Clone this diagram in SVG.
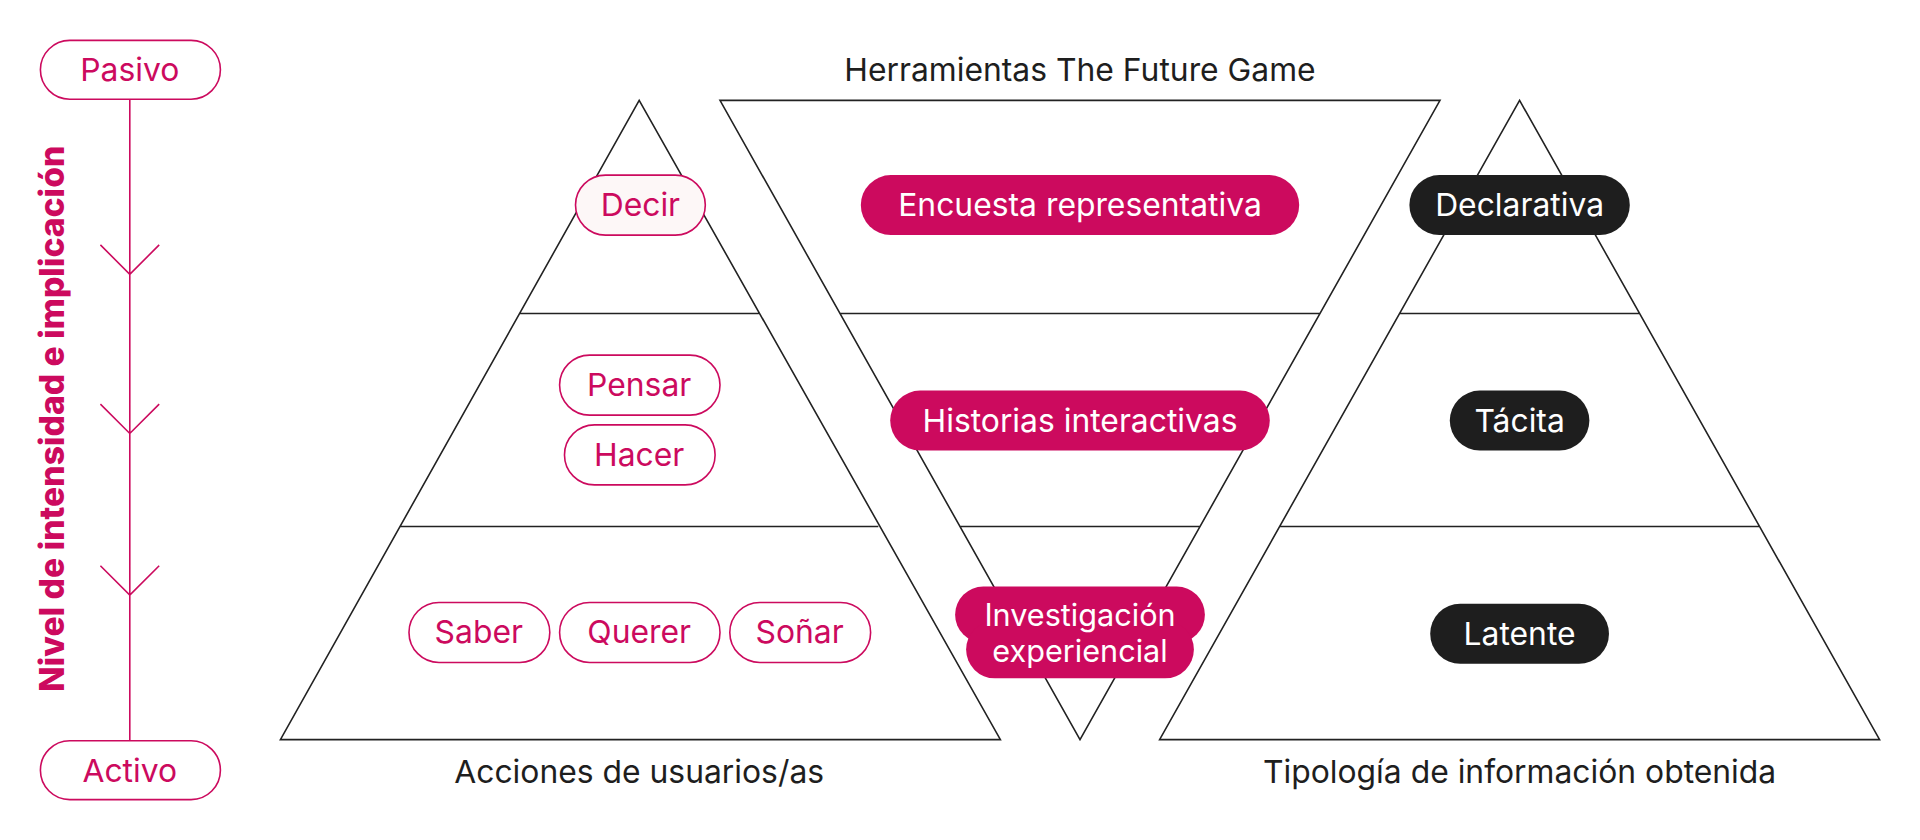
<svg xmlns="http://www.w3.org/2000/svg" width="1920" height="840" viewBox="0 0 1920 840">
<style>
text{font-family:Inter,"Liberation Sans",sans-serif;font-size:26px;text-anchor:middle;dominant-baseline:central}
.ln{fill:none;stroke:#222;stroke-width:1.3}
.op{fill:#fff;stroke:#cc0a5e;stroke-width:1.3}
.mt{fill:#cc0a5e}
.fm{fill:#cc0a5e}
.fb{fill:#1e1e1e}
.wt{fill:#fff}
.dk{fill:#1e1e1e}
.ax{stroke:#cc0a5e;stroke-width:1.3;fill:none}
</style>
<rect width="1920" height="840" fill="#fff"/>
<g transform="scale(1.22449)">
<g id="connectors">
<path class="ax" d="M106 81V605M82 200L106 224L130 200M82 330L106 354L130 330M82 462L106 486L130 462"/>
<path class="ln" d="M522 82L229 604H817Z M424.3 256H619.7M326.7 430H717.3"/>
<path class="ln" d="M588 82H1176L882 604Z M686 256H1078M784 430H980"/>
<path class="ln" d="M1241 82L947 604H1535Z M1143.3 256H1338.7M1045 430H1437"/>
</g>
<g id="axis">
<rect class="op" x="33" y="33" width="147" height="48" rx="24"/><text class="mt" x="106" y="57">Pasivo</text>
<rect class="op" x="33" y="605" width="147" height="48" rx="24"/><text class="mt" x="106" y="629">Activo</text>
<text class="mt" transform="translate(42 342) rotate(-90)" font-weight="800" style="font-size:27.5px">Nivel de intensidad e implicación</text>
</g>
<g id="labels">
<text class="dk" x="882" y="57">Herramientas The Future Game</text>
<text class="dk" x="522" y="630">Acciones de usuarios/as</text>
<text class="dk" x="1241" y="630">Tipología de información obtenida</text>
</g>
<g id="acciones">
<rect class="op" x="470" y="143" width="106" height="49" rx="24.5" style="fill:#fdf7f7"/><text class="mt" x="523" y="167">Decir</text>
<rect class="op" x="457" y="290" width="131" height="49" rx="24.5"/><text class="mt" x="522" y="314">Pensar</text>
<rect class="op" x="461" y="347" width="123" height="49" rx="24.5"/><text class="mt" x="522" y="371">Hacer</text>
<rect class="op" x="334" y="492" width="115" height="49" rx="24.5"/><text class="mt" x="391" y="516">Saber</text>
<rect class="op" x="457" y="492" width="131" height="49" rx="24.5"/><text class="mt" x="522" y="516">Querer</text>
<rect class="op" x="596" y="492" width="115" height="49" rx="24.5"/><text class="mt" x="653" y="516">Soñar</text>
</g>
<g id="herramientas">
<rect class="fm" x="703" y="143" width="358" height="49" rx="24.5"/><text class="wt" x="882" y="167">Encuesta representativa</text>
<rect class="fm" x="727" y="319" width="310" height="49" rx="24.5"/><text class="wt" x="882" y="343">Historias interactivas</text>
<rect class="fm" x="780" y="479" width="204" height="46" rx="23"/>
<rect class="fm" x="789" y="507" width="186" height="47" rx="23.5"/>
<text class="wt" x="882" y="502" style="font-size:25px">Investigación</text>
<text class="wt" x="882" y="531" style="font-size:25px">experiencial</text>
</g>
<g id="tipologia">
<rect class="fb" x="1151" y="143" width="180" height="49" rx="24.5"/><text class="wt" x="1241" y="167">Declarativa</text>
<rect class="fb" x="1184" y="319" width="114" height="49" rx="24.5"/><text class="wt" x="1241" y="343">Tácita</text>
<rect class="fb" x="1168" y="493" width="146" height="49" rx="24.5"/><text class="wt" x="1241" y="517">Latente</text>
</g>
</g>
</svg>
